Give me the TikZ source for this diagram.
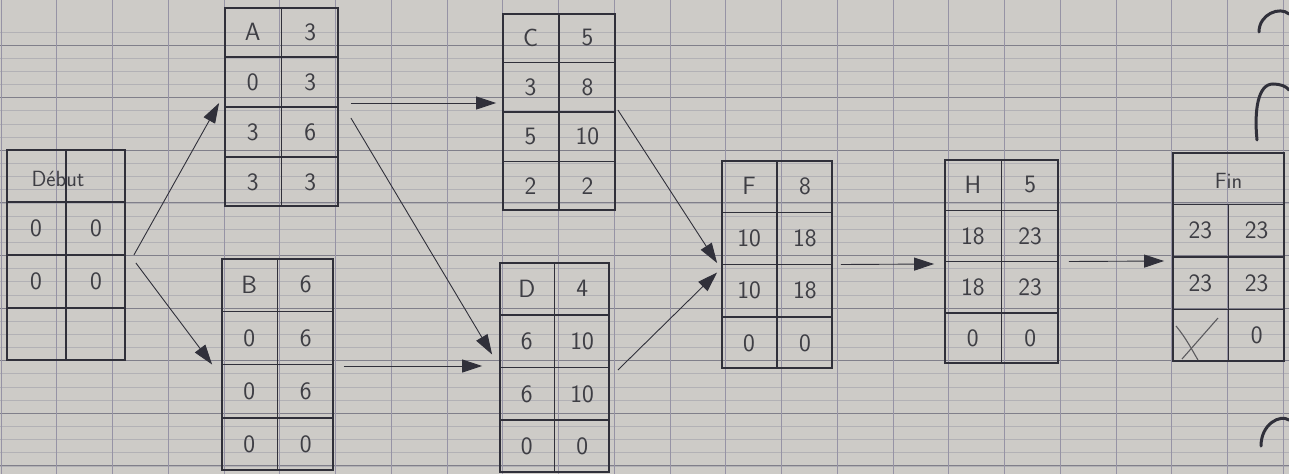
\documentclass[tikz,border=0pt]{standalone}
\usetikzlibrary{arrows.meta,calc,fit}
\definecolor{paper}{RGB}{205,203,199}
\definecolor{majorline}{RGB}{128,127,138}
\definecolor{minorline}{RGB}{178,177,181}
\definecolor{vline}{RGB}{150,147,165}
\definecolor{ink}{RGB}{48,48,58}
\definecolor{pencil}{RGB}{62,62,68}
\tikzset{
  boxframe/.style={draw=ink, line width=1.8pt, inner sep=0pt},
  divider/.style={draw=ink, line width=1.6pt},
  celltext/.style={text=pencil, font=\sffamily\fontsize{25}{27}\selectfont, inner sep=0pt},
  headtext/.style={text=pencil, font=\sffamily\fontsize{22}{24}\selectfont, inner sep=0pt},
  flow/.style={draw=ink, line width=0.9pt, -{Triangle[length=20pt,width=13pt]}},
  hole/.style={draw=ink, line width=3pt, line cap=round},
  crossmark/.style={draw=pencil!80!paper, line width=1.1pt},
}
\newcommand\pertbox[5]{%
  \coordinate (#1-nw) at (#2,#3);
  \coordinate (#1-se) at (#4,#5);
  \node[boxframe, fit=(#1-nw)(#1-se)] (#1) {};
  \foreach \f in {0.25,0.5,0.75}{%
    \draw[divider] ($(#1.north west)!\f!(#1.south west)$) -- ($(#1.north east)!\f!(#1.south east)$);}
}
\newcommand\pertrow[4]{%
  \pgfmathsetmacro\rowf{(#2-0.5)/4}%
  \path ($(#1.north west)!\rowf!(#1.south west)$) coordinate (#1-L#2)
        ($(#1.north east)!\rowf!(#1.south east)$) coordinate (#1-R#2);
  \node[celltext] (#1-#2a) at ($(#1-L#2)!0.25!(#1-R#2)$) {#3};
  \node[celltext] (#1-#2b) at ($(#1-L#2)!0.75!(#1-R#2)$) {#4};
}
\begin{document}
\begin{tikzpicture}[x=1pt,y=-1pt]
\useasboundingbox (0,0) rectangle (1289,474);
\fill[paper] (0,0) rectangle (1289,474);
% ruled paper
\foreach \k in {-1,...,36}{\draw[minorline, line width=0.6pt] (0,{45+13.15*\k}) -- (1289,{45+13.15*\k});}
\foreach \k in {-1,...,9}{\draw[majorline, line width=1pt] (0,{45+52.6*\k}) -- (1289,{45+52.6*\k});}
\foreach \k in {0,...,23}{\draw[vline, line width=1pt] ({1+55.75*\k},0) -- ({1+55.75*\k},474);}
% binder holes
\draw[hole] (1259,32) .. controls (1259,14) and (1280,6) .. (1289,14);
\draw[hole] (1257,140) .. controls (1254,110) and (1258,84) .. (1273,84) .. controls (1280,84) and (1286,86) .. (1289,90);
\draw[hole] (1261,446) .. controls (1261,424) and (1280,414) .. (1289,420);
% boxes
\pertbox{Debut}{7}{150}{125}{360}
\draw[divider] (Debut.north) -- (Debut.south);
\node[headtext] (Debut-1) at ($(Debut.north)!0.125!(Debut.south)+(-8,3)$) {Début};
\pertrow{Debut}{2}{0}{0}
\pertrow{Debut}{3}{0}{0}

\pertbox{A}{225}{8}{338}{206}
\draw[divider] (A.north) -- (A.south);
\pertrow{A}{1}{A}{3}
\pertrow{A}{2}{0}{3}
\pertrow{A}{3}{3}{6}
\pertrow{A}{4}{3}{3}

\pertbox{B}{222}{259}{333}{470}
\draw[divider] (B.north) -- (B.south);
\pertrow{B}{1}{B}{6}
\pertrow{B}{2}{0}{6}
\pertrow{B}{3}{0}{6}
\pertrow{B}{4}{0}{0}

\pertbox{C}{503}{14}{615}{210}
\draw[divider] (C.north) -- (C.south);
\pertrow{C}{1}{C}{5}
\pertrow{C}{2}{3}{8}
\pertrow{C}{3}{5}{10}
\pertrow{C}{4}{2}{2}

\pertbox{D}{500}{263}{609}{472}
\draw[divider] (D.north) -- (D.south);
\pertrow{D}{1}{D}{4}
\pertrow{D}{2}{6}{10}
\pertrow{D}{3}{6}{10}
\pertrow{D}{4}{0}{0}

\pertbox{F}{722}{161}{832}{368}
\draw[divider] (F.north) -- (F.south);
\pertrow{F}{1}{F}{8}
\pertrow{F}{2}{10}{18}
\pertrow{F}{3}{10}{18}
\pertrow{F}{4}{0}{0}

\pertbox{H}{945}{160}{1058}{363}
\draw[divider] (H.north) -- (H.south);
\pertrow{H}{1}{H}{5}
\pertrow{H}{2}{18}{23}
\pertrow{H}{3}{18}{23}
\pertrow{H}{4}{0}{0}

\pertbox{Fin}{1173}{153}{1284}{361}
\draw[divider] ($(Fin.north)!0.25!(Fin.south)$) -- (Fin.south);
\node[headtext] (Fin-1) at ($(Fin.north)!0.125!(Fin.south)+(0,3)$) {Fin};
\pertrow{Fin}{2}{23}{23}
\pertrow{Fin}{3}{23}{23}
\node[celltext] (Fin-4b) at ($(Fin-L3)!0.75!(Fin-R3)+(0,52)$) {0};
\draw[crossmark] (1176,326) .. controls (1186,338) and (1192,350) .. (1198,360);
\draw[crossmark] (1218,318) -- (1182,359);
% connectors
\draw[flow] ([xshift=8pt,yshift=0pt]Debut.east) -- ([xshift=-5pt,yshift=4pt]A.west);
\draw[flow] ([xshift=10pt,yshift=-8pt]Debut.east) -- ([xshift=-9pt,yshift=0pt]B.west);
\draw[flow] ([xshift=12pt,yshift=4pt]A.east) -- ([xshift=-6pt,yshift=9pt]C.west);
\draw[flow] ([xshift=12pt,yshift=-11pt]A.east) -- ([xshift=-7pt,yshift=13pt]D.west);
\draw[flow] ([xshift=10pt,yshift=-1.5pt]B.east) -- ([xshift=-17pt,yshift=1.5pt]D.west);
\draw[flow] ([xshift=2pt,yshift=2pt]C.east) -- ([xshift=-4pt,yshift=1.5pt]F.west);
\draw[flow] ([xshift=8pt,yshift=-2.5pt]D.east) -- ([xshift=-4pt,yshift=-8pt]F.west);
\draw[flow] ([xshift=8pt]F.east) -- ([xshift=-10pt,yshift=-2.5pt]H.west);
\draw[flow] ([xshift=10pt]H.east) -- ([xshift=-8pt,yshift=-4pt]Fin.west);
\end{tikzpicture}
\end{document}
